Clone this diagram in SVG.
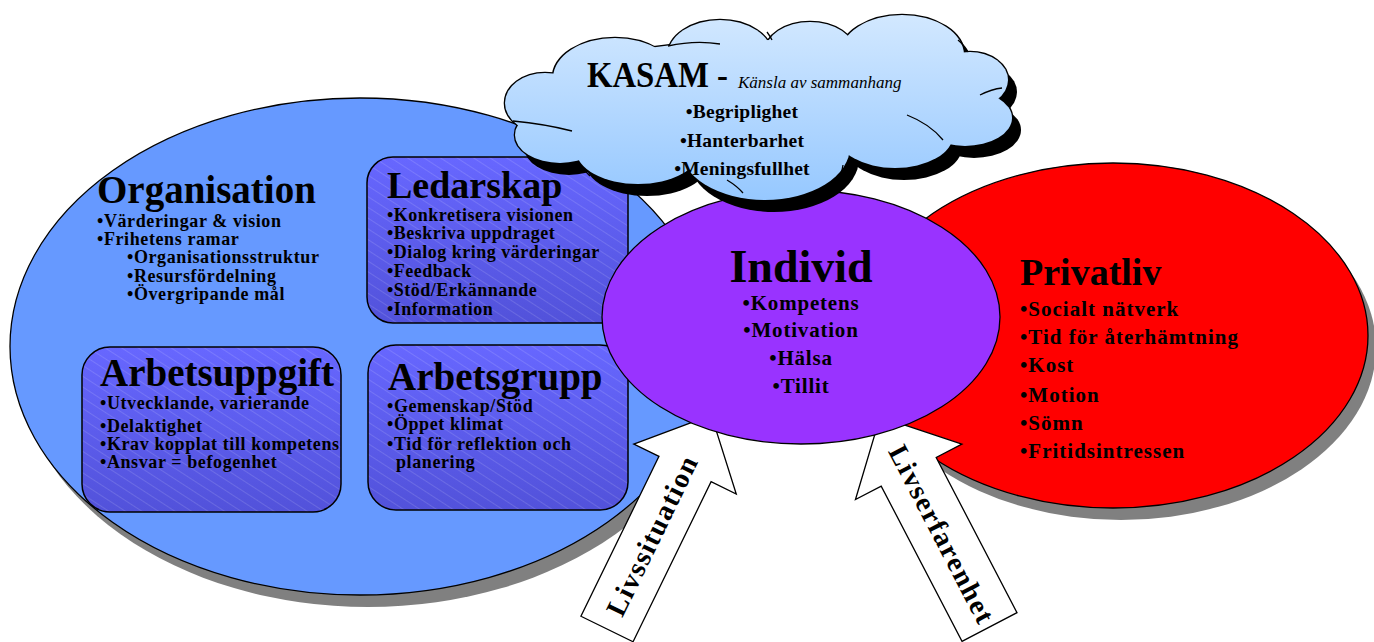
<svg xmlns="http://www.w3.org/2000/svg" width="1374" height="642" viewBox="0 0 1374 642">
<style>
text{font-family:"Liberation Serif","Times New Roman",serif;font-weight:bold;fill:#000}
.h{font-size:39px}
.b{font-size:18px;letter-spacing:0.6px}
.ib{font-size:21px;letter-spacing:0.8px}
.pb{font-size:21px;letter-spacing:1px}
.kb{font-size:19.5px;letter-spacing:0.2px}
.at{font-size:28px;letter-spacing:1.5px}
.ln{stroke:#000;stroke-width:1.3}
.box{stroke:#000;stroke-width:1.5}
</style>
<defs>
<linearGradient id="boxg" x1="0" y1="0" x2="0" y2="1">
<stop offset="0" stop-color="#6767FF"/>
<stop offset="1" stop-color="#5252DA"/>
</linearGradient>
<pattern id="hatch" patternUnits="userSpaceOnUse" width="9" height="9" patternTransform="rotate(33)">
<line x1="0" y1="0.5" x2="9" y2="0.5" stroke="#ffffff" stroke-opacity="0.13" stroke-width="1"/>
</pattern>
<linearGradient id="cloudg" gradientUnits="userSpaceOnUse" x1="0" y1="15" x2="0" y2="200">
<stop offset="0" stop-color="#D2E8FF"/>
<stop offset="1" stop-color="#96C8FF"/>
</linearGradient>
<g id="lobes">
<ellipse cx="545" cy="103" rx="40" ry="30"/>
<ellipse cx="615" cy="78" rx="62" ry="40"/>
<ellipse cx="720" cy="55" rx="52" ry="35"/>
<ellipse cx="810" cy="52" rx="45" ry="30"/>
<ellipse cx="902" cy="55" rx="62" ry="40"/>
<ellipse cx="970" cy="80" rx="38" ry="28"/>
<ellipse cx="965" cy="118" rx="47" ry="28"/>
<ellipse cx="895" cy="135" rx="58" ry="33"/>
<ellipse cx="765" cy="147" rx="85" ry="53"/>
<ellipse cx="638" cy="150" rx="62" ry="34"/>
<ellipse cx="560" cy="135" rx="45" ry="28"/>
<ellipse cx="760" cy="100" rx="220" ry="60"/>
</g>
</defs>
<rect width="1374" height="642" fill="#fff"/>

<g id="organisation">
<ellipse cx="368" cy="358.5" rx="350" ry="248.5" fill="#808080"/>
<ellipse cx="360" cy="346.5" rx="350" ry="248.5" fill="#6699FF" class="ln"/>
<text class="h" x="97" y="203">Organisation</text>
<text class="b"><tspan x="97" y="227">•Värderingar &amp; vision</tspan><tspan x="97" y="245">•Frihetens ramar</tspan><tspan x="127" y="263">•Organisationsstruktur</tspan><tspan x="127" y="282">•Resursfördelning</tspan><tspan x="127" y="300">•Övergripande mål</tspan></text>
</g>

<g id="privatliv">
<ellipse cx="1121" cy="347.5" rx="255" ry="172.5" fill="#808080"/>
<ellipse cx="1113" cy="335.5" rx="255" ry="172.5" fill="#FF0000" class="ln"/>
<text x="1020" y="285" style="font-size:38px">Privatliv</text>
<text class="pb"><tspan x="1020" y="316">•Socialt nätverk</tspan><tspan x="1020" y="344">•Tid för återhämtning</tspan><tspan x="1020" y="372">•Kost</tspan><tspan x="1020" y="402">•Motion</tspan><tspan x="1020" y="430">•Sömn</tspan><tspan x="1020" y="458">•Fritidsintressen</tspan></text>
</g>

<g id="ledarskap">
<rect x="367" y="157" width="261" height="166" rx="26" fill="url(#boxg)"/>
<rect x="367" y="157" width="261" height="166" rx="26" fill="url(#hatch)" class="box"/>
<text x="387" y="198" style="font-size:38px">Ledarskap</text>
<text class="b" style="letter-spacing:0.5px"><tspan x="387" y="221">•Konkretisera visionen</tspan><tspan x="387" y="239">•Beskriva uppdraget</tspan><tspan x="387" y="258">•Dialog kring värderingar</tspan><tspan x="387" y="277">•Feedback</tspan><tspan x="387" y="296">•Stöd/Erkännande</tspan><tspan x="387" y="315">•Information</tspan></text>
</g>

<g id="arbetsuppgift">
<rect x="82" y="347" width="259" height="165" rx="28" fill="url(#boxg)"/>
<rect x="82" y="347" width="259" height="165" rx="28" fill="url(#hatch)" class="box"/>
<text class="h" x="100" y="386">Arbetsuppgift</text>
<text class="b"><tspan x="100" y="409">•Utvecklande, varierande</tspan><tspan x="100" y="432">•Delaktighet</tspan><tspan x="100" y="450">•Krav kopplat till kompetens</tspan><tspan x="100" y="468">•Ansvar = befogenhet</tspan></text>
</g>

<g id="arbetsgrupp">
<rect x="368" y="345" width="260" height="165" rx="28" fill="url(#boxg)"/>
<rect x="368" y="345" width="260" height="165" rx="28" fill="url(#hatch)" class="box"/>
<text class="h" x="388" y="390">Arbetsgrupp</text>
<text class="b"><tspan x="387" y="412">•Gemenskap/Stöd</tspan><tspan x="387" y="430">•Öppet klimat</tspan><tspan x="387" y="450">•Tid för reflektion och</tspan><tspan x="396" y="468">planering</tspan></text>
</g>

<g id="connectors">
<g id="arrow-livssituation" transform="translate(607,629) rotate(26)">
<polygon points="-29,0 29,0 29,-178 57,-178 0,-238 -57,-178 -29,-178" fill="#fff" class="ln"/>
<text class="at" text-anchor="middle" transform="translate(9,-104) rotate(-90)">Livssituation</text>
</g>
<g id="arrow-livserfarenhet" transform="translate(989.5,627) rotate(-27.5)">
<polygon points="-31,0 31,0 31,-175 60,-175 0,-237 -60,-175 -31,-175" fill="#fff" class="ln"/>
<text class="at" text-anchor="middle" transform="translate(-9,-104) rotate(90)">Livserfarenhet</text>
</g>
</g>

<g id="individ">
<ellipse cx="801" cy="317" rx="199" ry="127" fill="#9933FF" class="ln"/>
<text x="801" y="282" text-anchor="middle" style="font-size:46px">Individ</text>
<text class="ib" text-anchor="middle"><tspan x="801" y="310">•Kompetens</tspan><tspan x="801" y="337">•Motivation</tspan><tspan x="801" y="365">•Hälsa</tspan><tspan x="801" y="393">•Tillit</tspan></text>
</g>

<g id="kasam">
<use href="#lobes" fill="#000" transform="translate(9,12)"/>
<use href="#lobes" fill="url(#cloudg)" stroke="#000" stroke-width="2.6"/>
<use href="#lobes" fill="url(#cloudg)"/>
<g fill="none" stroke="#000" stroke-width="1.3">
<path d="M668,46 Q695,40 720,44"/>
<path d="M513,121 Q545,124 572,131"/>
<path d="M767,32 Q770,36 772,40"/>
<path d="M958,40 Q965,46 968,52"/>
<path d="M980,95 Q992,89 1002,88"/>
<path d="M907,115 Q930,124 943,140"/>
<path d="M843,165 Q842,172 840,177"/>
<path d="M727,180 Q737,186 743,193"/>
<path d="M577,165 Q585,170 590,176"/>
</g>
<text><tspan x="587" y="87" style="font-size:36px" textLength="141" lengthAdjust="spacingAndGlyphs">KASAM -</tspan><tspan x="738" y="88" style="font-size:17px;font-weight:normal;font-style:italic">Känsla av sammanhang</tspan></text>
<text class="kb" text-anchor="middle"><tspan x="742" y="118">•Begriplighet</tspan><tspan x="742" y="147">•Hanterbarhet</tspan><tspan x="742" y="175">•Meningsfullhet</tspan></text>
</g>
</svg>
